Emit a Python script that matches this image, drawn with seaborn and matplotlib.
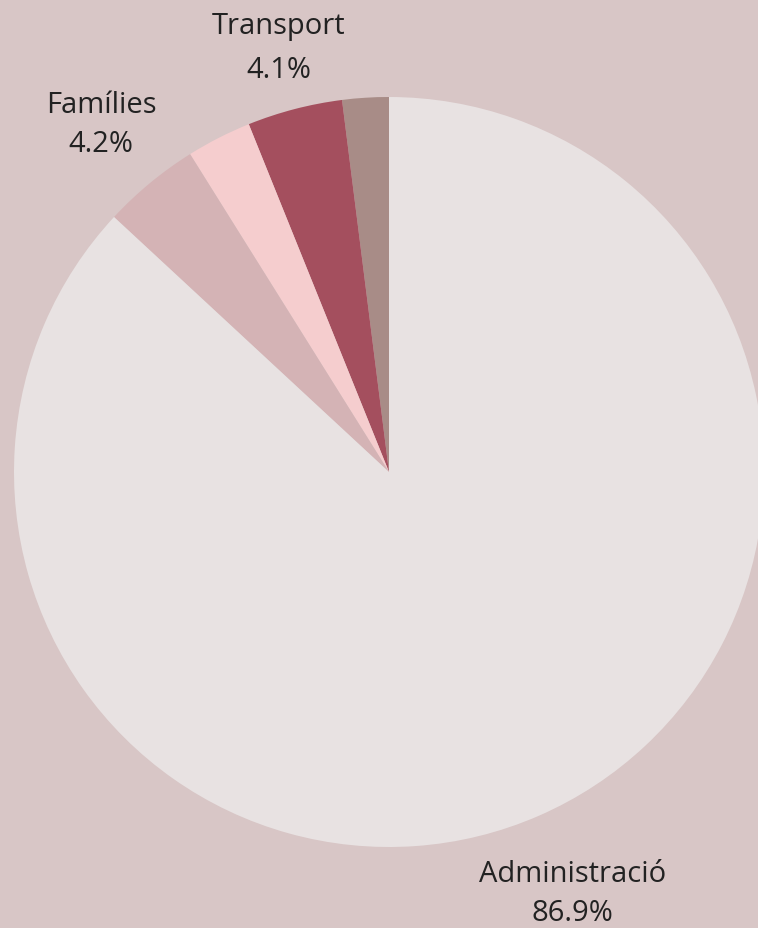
import matplotlib
matplotlib.use('Agg')
import matplotlib.pyplot as plt
import numpy as np
import seaborn as sns

# slices, counter-clockwise from 12 o'clock
categories = ['Altres', 'Transport', 'Habitatge', 'Famílies', 'Administració']
values = [2.0, 4.1, 2.8, 4.2, 86.9]
slice_colors = ['#a88c87', '#a44f5e', '#f5cdce', '#d4b3b5', '#e8e2e2']
label_min = 4.0

bg = '#d8c6c6'

sns.set_theme(style='white')
plt.rcParams['font.family'] = ['Open Sans', 'DejaVu Sans']

W, H = 758, 929
cx, cy, r = 389, 473, 375

fig = plt.figure(figsize=(W / 100, H / 100), dpi=100, facecolor=bg)
ax = fig.add_axes([0, 0, 1, 1])
ax.set_facecolor(bg)

labels = [f'{c}\n{v:.1f}%' if v >= label_min else '' for c, v in zip(categories, values)]
palette = sns.color_palette(slice_colors)

wedges, texts = ax.pie(values, labels=labels, colors=palette, startangle=90,
                       counterclock=True, labeldistance=1.2,
                       wedgeprops=dict(linewidth=0),
                       textprops=dict(fontsize=21, color='#222222',
                                      linespacing=1.45))

# centre the labels over each wedge, Transport sits a bit closer
label_dist = {'Transport': 1.17, 'Famílies': 1.205}
for w, t, c in zip(wedges, texts, categories):
    mid = np.deg2rad((w.theta1 + w.theta2) / 2)
    d = label_dist.get(c, 1.225)
    t.set_position((d * np.cos(mid), d * np.sin(mid)))
    t.set_ha('center')
    t.set_va('center')
    if c == 'Transport':
        t.set_linespacing(1.65)

ax.set_xlim(-cx / r, (W - cx) / r)
ax.set_ylim(-(H - cy) / r, cy / r)
ax.set_aspect('auto')
ax.axis('off')

fig.savefig('out.png', dpi=100, facecolor=bg)
